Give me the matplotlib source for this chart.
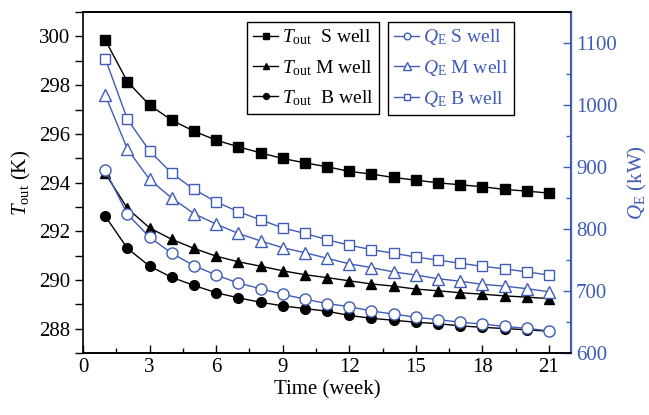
import matplotlib
matplotlib.use("Agg")
import matplotlib.pyplot as plt
from matplotlib.ticker import MultipleLocator

plt.rcParams['font.family'] = ['Liberation Serif', 'DejaVu Serif']
plt.rcParams['mathtext.fontset'] = 'custom'
plt.rcParams['mathtext.rm'] = 'Liberation Serif'
plt.rcParams['mathtext.it'] = 'Liberation Serif:italic'

weeks = list(range(1, 22))

T_S = [299.85, 298.14, 297.18, 296.56, 296.11, 295.74, 295.47, 295.22, 294.99, 294.81,
       294.65, 294.46, 294.35, 294.21, 294.10, 293.99, 293.91, 293.83, 293.72, 293.65, 293.57]
T_M = [294.38, 292.94, 292.14, 291.67, 291.30, 290.98, 290.75, 290.57, 290.38, 290.22,
       290.10, 289.97, 289.84, 289.75, 289.63, 289.56, 289.48, 289.42, 289.35, 289.30, 289.24]
T_B = [292.62, 291.30, 290.57, 290.11, 289.78, 289.48, 289.27, 289.09, 288.94, 288.83,
       288.72, 288.55, 288.43, 288.35, 288.27, 288.21, 288.12, 288.06, 288.01, 287.96, 287.90]

Q_S = [895, 824, 787, 761, 741, 726, 713, 704, 695, 687,
       680, 675, 668, 663, 658, 654, 650, 647, 643, 640, 636]
Q_M = [1016, 929, 880, 850, 825, 808, 793, 781, 770, 762,
       753, 744, 738, 731, 726, 720, 716, 711, 708, 704, 699]
Q_B = [1075, 977, 926, 890, 864, 844, 828, 815, 802, 793,
       783, 774, 767, 761, 755, 750, 745, 740, 736, 731, 726]

BLUE = '#3f5cb6'
FS = 15
LFS = 14

fig = plt.figure(figsize=(6.49, 4.15), dpi=100)
ax = fig.add_axes([0.128, 0.149, 0.752, 0.822])
ax2 = ax.twinx()

ms = 7
lt1, = ax.plot(weeks, T_S, '-s', color='black', lw=1, ms=ms - 0.5)
lt2, = ax.plot(weeks, T_M, '-^', color='black', lw=1, ms=ms)
lt3, = ax.plot(weeks, T_B, '-o', color='black', lw=1, ms=ms)

lq1, = ax2.plot(weeks, Q_S, '-o', color=BLUE, lw=1, ms=ms + 1, mfc='white', mec=BLUE, mew=1)
lq2, = ax2.plot(weeks, Q_M, '-^', color=BLUE, lw=1, ms=ms + 1.5, mfc='white', mec=BLUE, mew=1)
lq3, = ax2.plot(weeks, Q_B, '-s', color=BLUE, lw=1, ms=ms, mfc='white', mec=BLUE, mew=1)

ax.set_xlim(0, 22)
ax.set_ylim(287, 301)
ax2.set_ylim(600, 1150)

ax.xaxis.set_major_locator(MultipleLocator(3))
ax.xaxis.set_minor_locator(MultipleLocator(1.5))
ax.yaxis.set_major_locator(MultipleLocator(2))
ax.yaxis.set_minor_locator(MultipleLocator(1))
ax2.yaxis.set_major_locator(MultipleLocator(100))
ax2.yaxis.set_minor_locator(MultipleLocator(50))

ax.tick_params(axis='x', which='both', direction='in', labelsize=FS, width=1)
ax.tick_params(axis='x', which='major', length=6)
ax.tick_params(axis='x', which='minor', length=3.5)
ax.tick_params(axis='y', which='both', direction='out', labelsize=FS, width=1, length=6)
ax2.tick_params(axis='y', which='both', direction='in', labelsize=FS, width=1,
                length=6, colors=BLUE)
ax2.tick_params(axis='y', which='minor', length=3.5)

for s in ['left', 'top', 'bottom']:
    ax.spines[s].set_linewidth(1.2)
ax2.spines['right'].set_color(BLUE)
ax2.spines['right'].set_linewidth(1.5)
ax2.spines['left'].set_visible(False)
ax2.spines['top'].set_linewidth(1.2)
ax2.spines['bottom'].set_linewidth(1.2)

ax.set_xlabel('Time (week)', fontsize=FS, labelpad=2)
ax.set_ylabel(r'$T_{\rm out}$ (K)', fontsize=FS, labelpad=4)
ax2.set_ylabel(r'$Q_{\rm E}$ (kW)', fontsize=FS, color=BLUE, labelpad=6)

common = dict(loc='upper left', fontsize=LFS, frameon=True, fancybox=False,
              edgecolor='black', framealpha=1, handlelength=1.3, handletextpad=0.2,
              labelspacing=0.55, borderpad=0.3, borderaxespad=0, markerscale=0.6)
leg1 = ax.legend([lt1, lt2, lt3],
                 [r'$T_{\rm out}$  S well', r'$T_{\rm out}$ M well', r'$T_{\rm out}$  B well'],
                 bbox_to_anchor=(0.336, 0.972), **common)
leg1.get_frame().set_linewidth(1)
leg2 = ax2.legend([lq1, lq2, lq3],
                  [r'$Q_{\rm E}$ S well', r'$Q_{\rm E}$ M well', r'$Q_{\rm E}$ B well'],
                  bbox_to_anchor=(0.625, 0.972), **common)
leg2.get_frame().set_linewidth(1)
for t in leg2.get_texts():
    t.set_color(BLUE)

fig.savefig('out.png', dpi=100)
